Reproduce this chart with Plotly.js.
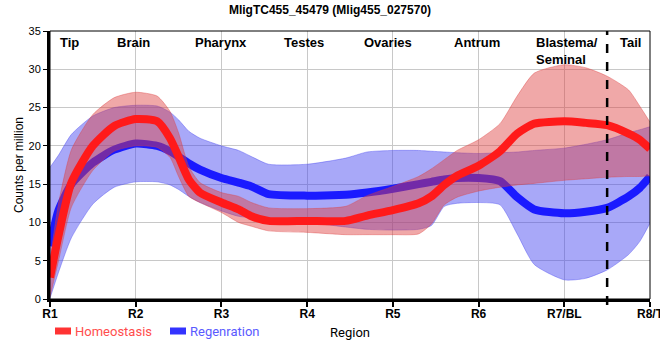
<!DOCTYPE html>
<html>
<head>
<meta charset="utf-8">
<script src="https://cdn.plot.ly/plotly-3.0.1.min.js"></script>
<style>html,body{margin:0;padding:0;background:#fff;}#chart{width:660px;height:360px;}</style>
</head>
<body>
<div id="chart"></div>
<script>
// Region positions (R1 = 0 ... R8/T = 7) at which values were read
const xPos = [0, 0.1, 0.25, 0.5, 0.75, 1, 1.25, 1.4, 1.5, 1.62, 1.75, 2, 2.2, 2.35, 2.55, 3, 3.45, 3.7, 4, 4.3, 4.45, 4.6, 4.75, 5, 5.25, 5.45, 5.65, 6, 6.25, 6.5, 6.75, 6.88, 7];

const homeoMean  = [2.8, 8.3, 15.2, 20.0, 22.6, 23.5, 23.2, 21.0, 18.6, 15.6, 13.9, 12.6, 11.7, 10.8, 10.2, 10.2, 10.2, 10.9, 11.6, 12.5, 13.4, 14.9, 16.1, 17.4, 19.3, 21.6, 22.9, 23.2, 23.0, 22.7, 21.6, 20.8, 19.6];
const homeoUpper = [5.0, 12.5, 19.5, 24.1, 26.3, 27.0, 26.5, 24.5, 21.7, 17.3, 15.2, 13.9, 13.4, 12.6, 11.9, 11.8, 12.1, 13.5, 14.7, 16.0, 17.0, 18.2, 19.4, 20.8, 22.9, 26.5, 29.5, 30.6, 30.2, 29.1, 27.3, 25.2, 23.1];
const homeoLower = [0.3, 5.0, 12.0, 16.8, 19.3, 20.0, 19.8, 18.5, 16.0, 13.4, 12.6, 11.3, 10.0, 9.5, 8.9, 8.7, 8.4, 8.4, 8.4, 8.5, 9.8, 12.3, 13.3, 14.1, 14.6, 14.9, 15.1, 15.5, 15.7, 15.9, 16.0, 16.0, 16.1];

const regenMean  = [6.9, 11.6, 15.0, 17.8, 19.5, 20.3, 20.0, 19.3, 18.6, 17.7, 16.9, 15.8, 15.2, 14.7, 13.7, 13.5, 13.6, 13.9, 14.4, 15.0, 15.3, 15.6, 15.8, 15.8, 15.4, 13.3, 11.7, 11.2, 11.4, 11.9, 13.4, 14.5, 16.0];
const regenUpper = [17.2, 18.8, 21.5, 23.9, 25.0, 25.3, 25.2, 24.4, 23.4, 21.9, 21.0, 20.0, 19.4, 18.6, 17.6, 17.6, 18.4, 19.2, 19.4, 19.4, 19.3, 19.2, 19.1, 19.0, 19.1, 19.2, 19.4, 19.7, 20.2, 20.8, 21.7, 22.1, 22.5];
const regenLower = [0.1, 3.5, 8.0, 12.4, 14.6, 15.3, 15.3, 14.9, 14.3, 13.4, 12.6, 11.5, 10.8, 10.6, 10.2, 10.0, 9.4, 9.1, 9.0, 9.1, 9.6, 12.1, 12.5, 12.6, 12.3, 8.5, 4.5, 2.5, 2.7, 3.8, 5.8, 7.5, 9.9];

const tickVals = [0, 1, 2, 3, 4, 5, 6, 7];
const tickText = ['R1', 'R2', 'R3', 'R4', 'R5', 'R6', 'R7/BL', 'R8/T'];

const regionNames = ['Tip', 'Brain', 'Pharynx', 'Testes', 'Ovaries', 'Antrum', 'Blastema/<br>Seminal', 'Tail'];
const regionLabelX = [0.23, 0.97, 2.0, 2.96, 3.94, 4.98, 5.65, 6.77];

const seriesNames = ['Homeostasis', 'Regenration'];
const tailBoundary = 6.5;

const FONT = 'Liberation Sans, Arial, sans-serif';
const spline = {shape: 'spline', smoothing: 0.6};

function band(upper, lower, fill, edge) {
  return [
    {x: xPos, y: upper, mode: 'lines', line: Object.assign({color: edge, width: 0.7}, spline), showlegend: false, hoverinfo: 'skip'},
    {x: xPos, y: lower, mode: 'lines', line: Object.assign({color: edge, width: 0.7}, spline), fill: 'tonexty', fillcolor: fill, showlegend: false, hoverinfo: 'skip'}
  ];
}

const traces = [
  ...band(regenUpper, regenLower, 'rgba(62,62,239,0.45)', 'rgba(62,62,239,0.55)'),
  {x: xPos, y: regenMean, mode: 'lines', name: seriesNames[1], line: Object.assign({color: '#1a1aff', width: 8}, spline), showlegend: false},
  ...band(homeoUpper, homeoLower, 'rgba(222,62,62,0.45)', 'rgba(222,62,62,0.55)'),
  {x: xPos, y: homeoMean, mode: 'lines', name: seriesNames[0], line: Object.assign({color: '#ff1a1a', width: 8}, spline), showlegend: false}
];

// plot area geometry in px for paper conversions (legend placement)
const L = 50, R = 10, T = 31, B = 61, W = 660, H = 360;
const pw = W - L - R, ph = H - T - B;
const px2x = p => (p - L) / pw;
const py2y = p => (H - B - p) / ph;

const annotations = regionNames.map((t, i) => ({
  x: regionLabelX[i], y: py2y(33), xref: 'x', yref: 'paper',
  text: '<b>' + t + '</b>', showarrow: false,
  xanchor: i === 6 ? 'left' : 'center', yanchor: 'top', align: 'left',
  font: {family: FONT, size: 13, color: '#000'}
}));
annotations.push(
  {x: px2x(73), y: py2y(331), xref: 'paper', yref: 'paper', text: seriesNames[0], showarrow: false, xanchor: 'left', yanchor: 'middle', font: {family: 'Roboto, ' + FONT, size: 13, color: '#ff4d4d'}},
  {x: px2x(188), y: py2y(331), xref: 'paper', yref: 'paper', text: seriesNames[1], showarrow: false, xanchor: 'left', yanchor: 'middle', font: {family: 'Roboto, ' + FONT, size: 13, color: '#5a5aff'}}
);

const shapes = [
  {type: 'rect', xref: 'paper', yref: 'paper', x0: 0, x1: 1, y0: 0, y1: 1, line: {color: '#000', width: 1}},
  {type: 'line', xref: 'x', yref: 'paper', x0: tailBoundary, x1: tailBoundary, y0: py2y(305), y1: 1, line: {color: '#000', width: 2.5, dash: 'dash'}},
  {type: 'line', xref: 'paper', yref: 'paper', x0: px2x(55), x1: px2x(71), y0: py2y(331), y1: py2y(331), line: {color: '#ff3333', width: 7}},
  {type: 'line', xref: 'paper', yref: 'paper', x0: px2x(170), x1: px2x(186), y0: py2y(331), y1: py2y(331), line: {color: '#3333ff', width: 7}}
];

const layout = {
  width: W, height: H,
  margin: {l: L, r: R, t: T, b: B},
  paper_bgcolor: '#fff', plot_bgcolor: '#fff',
  showlegend: false,
  title: {text: '<b>MligTC455_45479 (Mlig455_027570)</b>', x: 0.5, xref: 'container', xanchor: 'center', y: 1 - 10 / H, yref: 'container', yanchor: 'middle', font: {family: FONT, size: 12, color: '#000'}},
  xaxis: {
    range: [0, 7], tickvals: tickVals, ticktext: tickText.map(t => '<b>' + t + '</b>'),
    showgrid: true, gridcolor: '#c8c8c8', gridwidth: 1, zeroline: false,
    showline: true, linecolor: '#000', linewidth: 3,
    ticks: 'outside', ticklen: 5, tickwidth: 2, tickcolor: '#000',
    ticklabeloverflow: 'allow', ticklabelstandoff: -3,
    tickfont: {family: FONT, size: 12, color: '#000'},
    title: {text: 'Region', standoff: 8, font: {family: 'Roboto, ' + FONT, size: 13, color: '#000'}},
    automargin: false
  },
  yaxis: {
    range: [0, 35], dtick: 5, tick0: 0,
    showgrid: true, gridcolor: '#c8c8c8', gridwidth: 1, zeroline: false,
    showline: true, linecolor: '#000', linewidth: 3,
    ticks: 'outside', ticklen: 4, tickwidth: 1, tickcolor: '#000',
    tickfont: {family: FONT, size: 11, color: '#000'},
    title: {text: 'Counts per million', standoff: 3, font: {family: FONT, size: 12, color: '#000'}},
    automargin: false
  },
  annotations: annotations,
  shapes: shapes
};

Plotly.newPlot('chart', traces, layout, {displayModeBar: false, staticPlot: true});
</script>
</body>
</html>
